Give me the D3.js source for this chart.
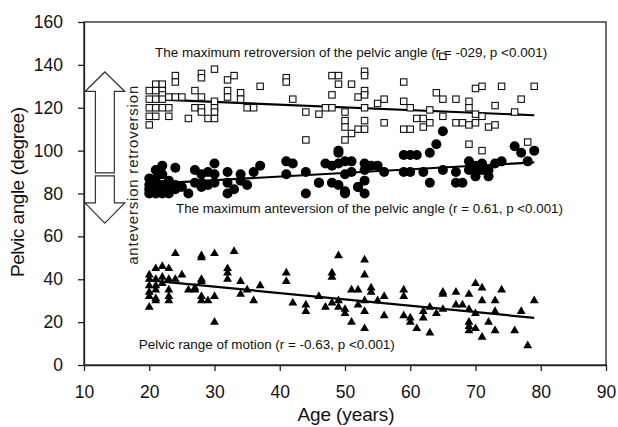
<!DOCTYPE html>
<html><head><meta charset="utf-8">
<script src="https://cdn.jsdelivr.net/npm/d3@7"></script>
<style>
html,body{margin:0;padding:0;background:#fff;}
svg{display:block;font-family:"Liberation Sans",Arial,sans-serif;}
</style></head>
<body><svg id="c" width="618" height="427"></svg>
<script>
// ---- data ----
const xTicks = [10,20,30,40,50,60,70,80,90];
const yTicks = [0,20,40,60,80,100,120,140,160];

// maximum retroversion [age, degree]
const retroversion = [
[20,128],[20,124],[20,120],[20,116],[20,112],[21,131],[21,128],[21,124],[21,120],[21,116],
[22,131],[22,128],[22,126],[22,124],[22,120],[23,125],[23,120],[23,116],[24,135],[24,132],[24,125],
[25,125],[26,115],[27,128],[27,120],[28,136],[28,134],[28,125],[28,120],[28,118],[29,115],
[30,138],[30,123],[30,120],[30,118],[30,115],[32,133],[32,128],[32,125],[33,135],[34,127],[34,124],
[35,120],[36,120],[37,130],[41,134],[41,132],[42,124],[44,118],[44,105],[46,117],[47,120],[48,120],
[48,135],[49,135],[49,131],[48,126],[51,131],[52,125],[53,137],[53,135],[53,128],[53,126],[53,120],
[50,118],[50,114],[50,111],[51,108],[50,105],[52,110],[53,114],[53,110],[55,122],[56,124],[56,113],
[59,132],[59,123],[60,120],[59,110],[60,110],[61,115],[62,115],[62,111],[63,119],[63,113],[64,127],
[65,124],[67,124],[65,116],[67,113],[68,113],[69,112],[70,113],[69,123],[69,120],[70,117],[71,116],
[70,129],[71,130],[69,103],[71,100],[72,111],[73,112],[73,121],[74,130],[76,118],[77,124],[78,104],
[79,130],[65,144]
];
// maximum anteversion [age, degree]
const anteversion = [
[20,87],[20,84],[20,82],[20,80],[21,91],[21,87],[21,84],[21,82],[21,80],[22,93],[22,89],[22,84],[22,80],
[23,86],[23,83],[23,80],[24,92],[24,84],[24,82],[25,83],[26,80],[27,91],[27,85],[28,89],[28,85],[28,83],
[29,90],[29,84],[30,94],[30,89],[30,85],[32,90],[32,85],[32,80],[33,82],[34,89],[34,86],[35,84],[36,90],
[37,93],[41,95],[41,89],[42,94],[44,90],[44,80],[46,85],[47,94],[48,93],[49,94],[50,95],[49,100],[49,99],
[48,85],[49,84],[50,80],[50,89],[51,90],[51,95],[52,83],[53,80],[53,94],[53,91],[53,86],[54,93],[55,93],
[56,90],[59,98],[60,98],[61,98],[63,99],[64,103],[65,109],[59,90],[60,90],[62,90],[63,85],[65,91],
[67,90],[67,85],[68,85],[69,95],[69,91],[70,93],[70,90],[70,88],[71,94],[71,91],[72,91],[72,88],[73,94],
[74,95],[76,102],[77,99],[78,95],[79,100],[46,85],[50,81],[52,83]
];
// pelvic range of motion [age, degree]
const rom = [
[20,42],[20,40],[20,37],[20,34],[20,32],[20,27],[21,45],[21,40],[21,37],[21,35],[21,31],[21,30],
[22,46],[22,41],[22,38],[23,45],[23,40],[23,35],[23,32],[23,30],[24,52],[24,40],[25,42],[26,35],
[27,36],[27,35],[28,51],[28,50],[28,40],[28,39],[28,32],[28,30],[29,30],[30,52],[30,32],[30,20],
[32,45],[32,43],[32,40],[33,53],[34,39],[34,33],[35,35],[36,30],[37,37],[41,43],[41,39],[42,29],
[44,28],[44,25],[46,32],[47,27],[48,43],[48,41],[48,29],[49,51],[49,30],[49,27],[50,26],[50,24],
[51,35],[51,20],[52,35],[52,28],[53,49],[53,42],[53,30],[53,25],[53,17],[54,36],[54,34],[55,30],
[56,32],[56,23],[59,35],[59,32],[59,23],[60,22],[60,20],[61,17],[62,25],[62,22],[63,27],[63,15],
[64,24],[65,34],[65,33],[65,26],[67,34],[67,28],[68,28],[69,33],[69,26],[69,20],[69,18],[69,16],
[70,38],[70,24],[70,17],[71,36],[71,30],[71,13],[72,20],[73,30],[73,25],[73,16],[74,35],[76,16],
[77,25],[78,9],[79,30]
];
// regression lines: [ageStart, valueStart, ageEnd, valueEnd]
const retroFit = [20,124,79,116.5];
const anteFit  = [20,84.5,79,94.5];
const romFit   = [20,39.5,79,22];

const labels = [
  {text:"The maximum retroversion of the pelvic angle (r = -029, p <0.001)", x:20.9, y:143.6, len:392},
  {text:"The maximum anteversion of the pelvic angle (r = 0.61, p <0.001)", x:24.1, y:70.9, len:387},
  {text:"Pelvic range of motion (r = -0.63, p <0.001)", x:18.4, y:7.5, len:256}
];

// ---- chart ----
const svg = d3.select("#c");
const x = d3.scaleLinear().domain([10,90]).range([84,606]);
const y = d3.scaleLinear().domain([0,160]).range([365,22]);

// frame
svg.append("rect").attr("x",x(10)).attr("y",y(160)).attr("width",x(90)-x(10)).attr("height",y(0)-y(160))
  .attr("fill","none").attr("stroke","#222").attr("stroke-width",1.3);

const xa = svg.append("g").attr("transform",`translate(0,${y(0)})`)
  .call(d3.axisBottom(x).tickValues(xTicks).tickSize(6).tickSizeOuter(0).tickPadding(15));
const ya = svg.append("g").attr("transform",`translate(${x(10)},0)`)
  .call(d3.axisLeft(y).tickValues(yTicks).tickSize(6).tickSizeOuter(0).tickPadding(15));
[xa,ya].forEach(a=>{
  a.select(".domain").attr("stroke","#222").attr("stroke-width",1.3);
  a.selectAll(".tick line").attr("stroke","#222").attr("stroke-width",1.3);
  a.selectAll(".tick text").attr("font-size",17.5).attr("fill","#111")
   .attr("font-family","'Liberation Sans',Arial,sans-serif");
});

// axis titles
svg.append("text").attr("x",346).attr("y",421).attr("text-anchor","middle")
  .attr("font-size",19).attr("fill","#111").attr("textLength",97).text("Age (years)");
svg.append("text").attr("transform","translate(24,192) rotate(-90)").attr("text-anchor","middle")
  .attr("font-size",19).attr("fill","#111").attr("textLength",170).text("Pelvic angle (degree)");

// arrows (in data units)
const ax = 13.2, hw = 3.05, sw = 1.45;
const up = [[ax,136.7],[ax+hw,127.6],[ax+sw,127.6],[ax+sw,89.6],[ax-sw,89.6],[ax-sw,127.6],[ax-hw,127.6]];
const dn = [[ax,66.2],[ax+hw,75.6],[ax+sw,75.6],[ax+sw,88.2],[ax-sw,88.2],[ax-sw,75.6],[ax-hw,75.6]];
const poly = d3.line().x(d=>x(d[0])).y(d=>y(d[1]));
[up,dn].forEach(p=>svg.append("path").attr("d",poly(p)+"Z").attr("fill","#fff")
  .attr("stroke","#333").attr("stroke-width",1.2));
svg.append("text").attr("transform",`translate(${x(18.3)},${y(88.5)}) rotate(-90)`)
  .attr("text-anchor","middle").attr("font-size",15).attr("fill","#222")
  .attr("textLength",179).text("anteversion  retroversion");

// regression lines
[retroFit,anteFit,romFit].forEach(f=>svg.append("line")
  .attr("x1",x(f[0])).attr("y1",y(f[1])).attr("x2",x(f[2])).attr("y2",y(f[3]))
  .attr("stroke","#000").attr("stroke-width",2.2));

// points
svg.append("g").selectAll("rect").data(retroversion).join("rect")
  .attr("x",d=>x(d[0])-3.2).attr("y",d=>y(d[1])-3.2).attr("width",6.4).attr("height",6.4)
  .attr("fill","#fff").attr("stroke","#111").attr("stroke-width",1.1);
svg.append("g").selectAll("circle").data(anteversion).join("circle")
  .attr("cx",d=>x(d[0])).attr("cy",d=>y(d[1])).attr("r",5).attr("fill","#000");
const tri = d3.symbol().type(d3.symbolTriangle).size(34);
svg.append("g").selectAll("path").data(rom).join("path")
  .attr("transform",d=>`translate(${x(d[0])},${y(d[1])})`).attr("d",tri).attr("fill","#000");

// annotations
labels.forEach(l=>svg.append("text").attr("x",x(l.x)).attr("y",y(l.y))
  .attr("font-size",12.5).attr("fill","#111").attr("textLength",l.len)
  .attr("lengthAdjust","spacingAndGlyphs").text(l.text));
</script></body></html>
